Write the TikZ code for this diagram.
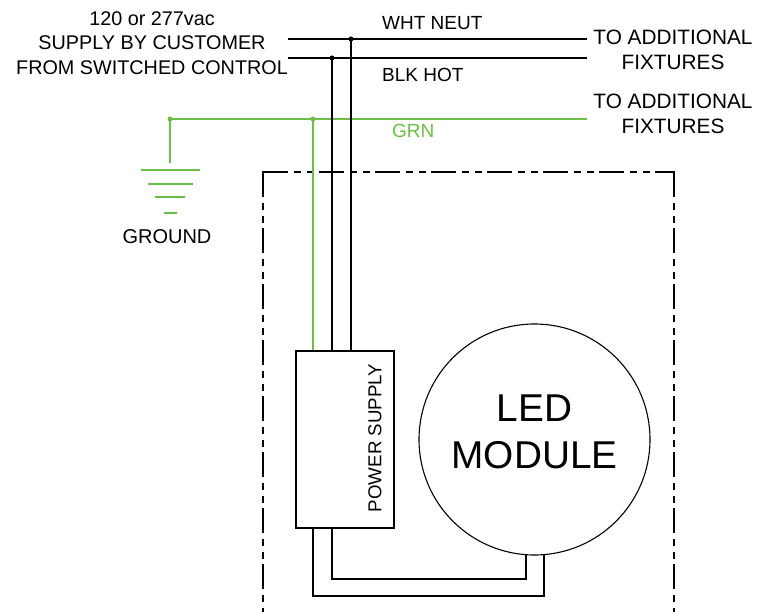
\documentclass[tikz,border=0pt]{standalone}
\usepackage{fontspec}
\setmainfont{Liberation Sans}
\definecolor{grn}{RGB}{108,190,72}
\begin{document}
\begin{tikzpicture}[x=1pt,y=-1pt,
  wire/.style={line width=1.6pt,black},
  gwire/.style={line width=1.6pt,grn},
  lbl/.style={font=\fontsize{19}{24.5}\selectfont,align=center,inner sep=0pt},
  dotmark/.style={circle,fill,inner sep=0pt,minimum size=5pt},
  enclosure/.style={line width=1.6pt,dash pattern=on 25pt off 6pt on 7pt off 6pt on 7pt off 5pt}]
\useasboundingbox (0,0) rectangle (771,612);

% enclosure
\coordinate (bl) at (263,615);
\coordinate (tl) at (263,172);
\coordinate (tr) at (674,172);
\coordinate (br) at (674,615);
\draw[enclosure] (tl) -- (bl);
\draw[enclosure] (tl) -- (tr);
\draw[enclosure] (tr) -- (br);
\draw[line width=1.6pt] (263,190) -- (tl) -- (280,172);
\draw[line width=1.6pt] (657,172) -- (tr) -- (674,190);

% components
\node[draw,line width=1.6pt,minimum width=98pt,minimum height=177pt,inner sep=0pt] (ps) at (345,439.5) {};
\node[lbl,rotate=90,font=\fontsize{18.7}{22}\selectfont] (pslabel) at (375,438) {POWER SUPPLY};
\node[draw,circle,line width=1.1pt,minimum size=231pt,inner sep=0pt] (led) at (534.5,439.5) {};
\node[lbl,font=\fontsize{38.8}{47}\selectfont] (ledlabel) at (534.5,431.5) {LED\\MODULE};

% supply wires
\coordinate (n1) at (288,39);
\coordinate (n2) at (587,39);
\coordinate (h1) at (288,58);
\coordinate (h2) at (587,58);
\coordinate (g1) at (170,119);
\coordinate (g2) at (587,119);
\node[dotmark] (nd) at (351,39) {};
\node[dotmark] (hd) at (332,58) {};
\node[dotmark,grn] (gnd) at (170,119) {};
\node[dotmark,grn] (gd) at (313,119) {};

\draw[wire] (n1) -- (n2);
\draw[wire] (h1) -- (h2);
\draw[gwire] (g1) -- (g2);
\draw[wire] (nd.center) -- (nd.center |- ps.north);
\draw[wire] (hd.center) -- (hd.center |- ps.north);
\draw[gwire] (gd.center) -- (gd.center |- ps.north);

% ground symbol
\coordinate (gs) at (170,163);
\draw[gwire] (gnd.center) -- (gs);
\draw[gwire] (141,170) -- (200,170);
\draw[gwire] (148,184) -- (193,184);
\draw[gwire] (155,197) -- (185,197);
\draw[gwire] (164,213) -- (177,213);

% output wires
\coordinate (o1) at (332,528);
\coordinate (o2) at (313,528);
\coordinate (l1) at (526,554.7);
\coordinate (l2) at (544,554.6);
\draw[wire] (o1) -- (332,579) -- (526,579) -- (l1);
\draw[wire] (o2) -- (313,596) -- (544,596) -- (l2);

% labels
\node[lbl,font=\fontsize{19.8}{24.5}\selectfont] (supply) at (152,43) {120 or 277vac\\SUPPLY BY CUSTOMER\\FROM SWITCHED CONTROL};
\node[lbl,anchor=west] (wht) at (382,23) {WHT NEUT};
\node[lbl,anchor=west] (blk) at (382,75) {BLK HOT};
\node[lbl,anchor=west,text=grn] (grnl) at (392,131) {GRN};
\node[lbl,font=\fontsize{20.8}{25}\selectfont] (add1) at (673,49.5) {TO ADDITIONAL\\FIXTURES};
\node[lbl,font=\fontsize{20.8}{25}\selectfont] (add2) at (673,114) {TO ADDITIONAL\\FIXTURES};
\node[lbl,font=\fontsize{20}{24}\selectfont] (ground) at (167,237) {GROUND};
\end{tikzpicture}
\end{document}
